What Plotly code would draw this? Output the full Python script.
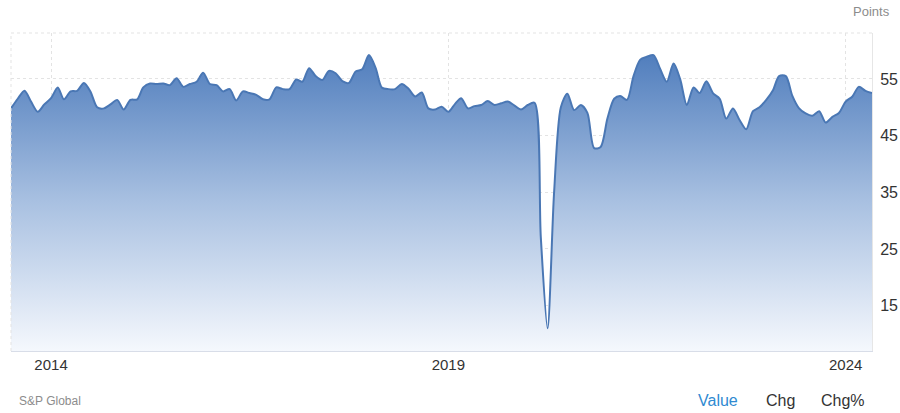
import pandas as pd
import plotly.graph_objects as go

# Monthly index values, Jul 2013 .. May 2024
first_month = "2013-07-01"
values = [
    49.8, 51.5, 52.9, 51.0, 49.2, 50.5,                     # 2013 H2
    51.6, 53.5, 51.4, 52.8, 52.9, 54.3, 52.8, 50.0, 49.8, 50.5, 51.3, 49.6,  # 2014
    51.3, 51.4, 53.5, 54.2, 54.1, 54.2, 53.9, 55.1, 53.6, 54.1, 54.5, 56.1,  # 2015
    54.1, 53.9, 52.8, 53.2, 51.2, 52.8, 52.5, 52.2, 51.4, 51.4, 53.5, 53.2,  # 2016
    53.2, 54.9, 54.5, 56.9, 55.5, 54.8, 56.4, 56.0, 54.6, 54.3, 56.3, 56.7,  # 2017
    59.2, 56.9, 53.5, 53.2, 53.2, 54.1, 53.3, 51.9, 52.6, 49.8, 49.6, 50.1,  # 2018
    49.2, 50.6, 51.6, 49.8, 50.2, 50.4, 51.1, 50.4, 50.7, 51.0, 50.3, 49.6,  # 2019
    50.4, 50.8, 27.0, 11.0, 35.0, 50.0, 52.4, 49.5, 50.4, 49.0, 42.8, 43.0,  # 2020
    48.0, 51.5, 52.0, 51.3, 55.5, 58.4, 58.9, 59.2, 56.7, 54.5, 57.7, 55.0,  # 2021
    50.4, 53.5, 52.5, 54.6, 52.5, 51.5, 48.0, 49.8, 47.7, 46.1, 49.3, 50.0,  # 2022
    51.3, 53.0, 55.5, 55.5, 52.0, 49.8, 48.9, 48.5, 49.3, 47.3, 48.3, 49.0,  # 2023
    51.0, 51.9, 53.6, 52.9, 52.5,                            # 2024
]
months = pd.date_range(first_month, periods=len(values), freq="MS")

y_ticks = [15, 25, 35, 45, 55]
x_ticks = ["2014-01-01", "2019-01-01", "2024-01-01"]
x_tick_text = ["2014", "2019", "2024"]

LINE = "#4a77b4"
GRID = "#e3e3e3"
INK = "#333333"
MUTED = "#8c8c8c"
FONT = "Liberation Sans, Arial, sans-serif"

fig = go.Figure()
fig.add_trace(
    go.Scatter(
        x=months,
        y=values,
        mode="lines",
        line={"color": LINE, "width": 2, "shape": "spline", "smoothing": 0.8},
        fill="tozeroy",
        fillgradient={
            "type": "vertical",
            "start": 7,
            "stop": 60,
            "colorscale": [
                [0, "rgba(245,248,253,1)"],
                [0.5, "rgb(168,192,225)"],
                [1, "rgb(78,124,188)"],
            ],
        },
        hoverinfo="x+y",
    )
)

# frame: dotted top / left edges
fig.add_shape(type="line", xref="paper", yref="paper", x0=0, x1=1, y0=1, y1=1,
              line={"color": GRID, "width": 1, "dash": "dot"})
fig.add_shape(type="line", xref="paper", yref="paper", x0=0, x1=0, y0=0, y1=1,
              line={"color": GRID, "width": 1, "dash": "dot"})

fig.update_xaxes(
    range=[months[0], months[-1]],
    tickvals=x_ticks,
    ticktext=x_tick_text,
    tickfont={"size": 15, "color": INK},
    showgrid=True,
    gridcolor=GRID,
    griddash="dot",
    showline=True,
    linecolor="#d8dde8",
    linewidth=1,
    ticks="",
    zeroline=False,
    automargin=False,
)
fig.update_yaxes(
    range=[7.0, 63.1],
    side="right",
    tickvals=y_ticks,
    tickfont={"size": 16, "color": INK},
    ticklabelstandoff=4,
    showgrid=True,
    gridcolor=GRID,
    griddash="dot",
    showline=True,
    linecolor="#e6e6e6",
    ticks="",
    zeroline=False,
    automargin=False,
)

fig.add_annotation(text="Points", xref="paper", yref="paper", x=1.023, y=1.0,
                   yshift=22, xanchor="right", yanchor="middle", showarrow=False,
                   font={"size": 13, "color": MUTED})
fig.add_annotation(text="S&P Global", xref="paper", yref="paper", x=0.007, y=0,
                   yshift=-50, xanchor="left", yanchor="middle", showarrow=False,
                   font={"size": 12, "color": MUTED})
for label, xpos, colour in [("Value", 0.821, "#2f8ad1"), ("Chg", 0.894, INK), ("Chg%", 0.966, INK)]:
    fig.add_annotation(text=label, xref="paper", yref="paper", x=xpos, y=0,
                       yshift=-49, xanchor="center", yanchor="middle", showarrow=False,
                       font={"size": 16, "color": colour})

fig.update_layout(
    width=900,
    height=413,
    margin={"l": 11, "r": 28, "t": 33, "b": 62, "autoexpand": False},
    paper_bgcolor="white",
    plot_bgcolor="white",
    showlegend=False,
    font={"family": FONT, "color": INK},
)

# the page body has a default 8px margin; drop it so the figure sits at 0,0
fig.write_html(
    "out.html",
    config={"displayModeBar": False},
    post_script="document.body.style.margin='0';",
)
